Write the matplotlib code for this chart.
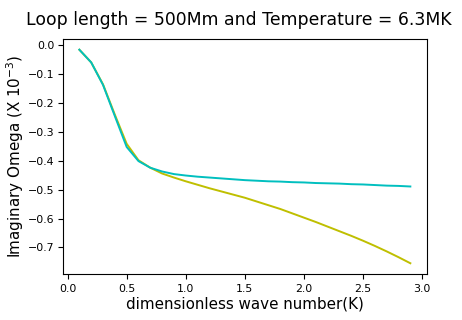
import matplotlib
matplotlib.use("Agg")
import matplotlib.pyplot as plt

# wave number K (dimensionless)
k = [0.1, 0.2, 0.3, 0.4, 0.5, 0.6, 0.7, 0.8, 0.9, 1.0,
     1.1, 1.2, 1.3, 1.4, 1.5, 1.6, 1.7, 1.8, 1.9, 2.0,
     2.1, 2.2, 2.3, 2.4, 2.5, 2.6, 2.7, 2.8, 2.9]

# imaginary omega (x 1e-3), two cases
omega_yellow = [-0.015, -0.059, -0.135, -0.240, -0.341, -0.398, -0.424, -0.444, -0.458, -0.471,
                -0.483, -0.495, -0.506, -0.517, -0.528, -0.541, -0.554, -0.567, -0.582, -0.597,
                -0.612, -0.628, -0.644, -0.660, -0.677, -0.695, -0.714, -0.734, -0.755]
omega_cyan = [-0.015, -0.059, -0.137, -0.245, -0.352, -0.401, -0.424, -0.437, -0.446, -0.451,
              -0.455, -0.458, -0.461, -0.464, -0.467, -0.469, -0.471, -0.472, -0.474, -0.475,
              -0.477, -0.478, -0.479, -0.481, -0.482, -0.484, -0.486, -0.487, -0.489]

fig = plt.figure(figsize=(4.62, 3.2), dpi=100)
ax = fig.add_axes([0.136, 0.144, 0.788, 0.734])

ax.plot(k, omega_yellow, color="y", linewidth=1.4)
ax.plot(k, omega_cyan, color="c", linewidth=1.4)

ax.set_xticks([0.0, 0.5, 1.0, 1.5, 2.0, 2.5, 3.0])
ax.tick_params(labelsize=7.9)
ax.tick_params(axis="y", pad=2.5)
ax.set_xlabel("dimensionless wave number(K)", fontsize=10.9, labelpad=2)
ax.set_ylabel(r"Imaginary Omega (X $10^{-3}$)", fontsize=10.9, labelpad=1)
ax.set_title("Loop length = 500Mm and Temperature = 6.3MK", fontsize=12.4, pad=10, x=0.484)

fig.savefig("out.png")
